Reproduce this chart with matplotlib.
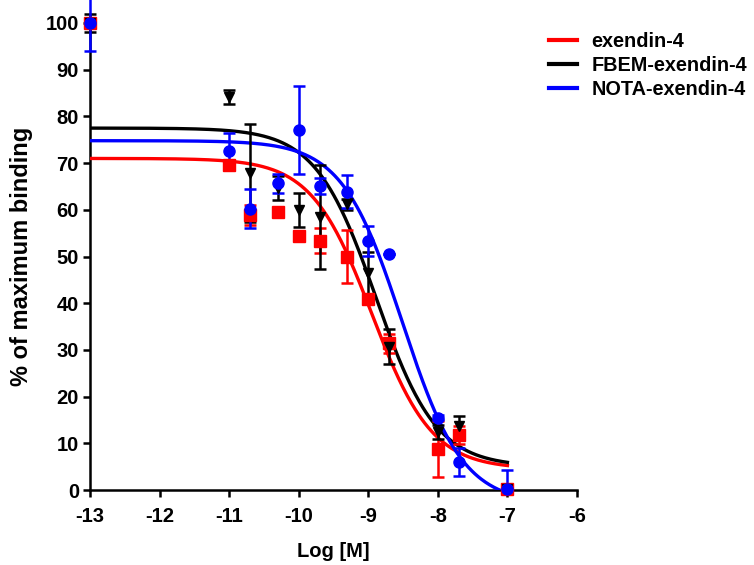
import numpy as np
import matplotlib
matplotlib.use("Agg")
import matplotlib.pyplot as plt

plt.rcParams['font.family'] = ['Liberation Sans', 'DejaVu Sans']
plt.rcParams['font.weight'] = 'bold'
plt.rcParams['axes.unicode_minus'] = False

# Data (log molar concentration)
log_conc = [-13, -11, -10.7, -10.3, -10, -9.7, -9.3, -9, -8.7, -8, -7.7, -7]

exendin_y = [100, 69.6, 58.9, 59.5, 54.4, 53.4, 50.0, 41.0, 31.4, 8.8, 11.8, 0.3]
exendin_err = [0, 1.0, 2.2, 0, 0, 2.7, 5.7, 1.0, 2.0, 6.0, 2.0, 0.3]

fbem_y = [100, 84.2, 67.9, 64.7, 60.0, 58.5, 61.2, 46.5, 30.7, 12.5, 13.6, 0.3]
fbem_err = [2.0, 1.5, 10.5, 2.5, 3.7, 11.2, 1.2, 4.5, 3.7, 1.5, 2.2, 0.3]

nota_y = [100, 72.6, 60.2, 65.7, 77.1, 65.1, 63.9, 53.3, 50.5, 15.5, 6.1, 0.2]
nota_err = [6.0, 3.8, 4.2, 2.0, 9.5, 1.7, 3.6, 3.2, 0, 0.5, 3.0, 4.0]

# Fitted one-site competition curves: top, bottom, logIC50, hill slope
exendin_fit = [71.0, 4.5, -8.95, 1.0]
fbem_fit = [77.5, 5.0, -8.89, 1.0]
nota_fit = [74.8, -3.0, -8.51, 1.0]

labels = ['exendin-4', 'FBEM-exendin-4', 'NOTA-exendin-4']
colors = ['#ff0000', '#000000', '#0000ff']
markers = ['s', 'v', 'o']

fig = plt.figure(figsize=(7.54, 5.65), dpi=100)
ax = fig.add_axes([90/754, 1 - 490/565, (577-90)/754, (490-23)/565])

xs = np.linspace(-13, -7, 400)

def curve(p, x):
    top, bottom, logic50, hill = p
    return bottom + (top - bottom) / (1 + 10 ** ((x - logic50) * hill))

series = [
    (exendin_y, exendin_err, exendin_fit),
    (fbem_y, fbem_err, fbem_fit),
    (nota_y, nota_err, nota_fit),
]

handles = []
for (ys, errs, fit), lab, col, mk in zip(series, labels, colors, markers):
    ys = np.array(ys, float)
    errs = np.array(errs, float)
    lower = np.minimum(errs, ys)
    h, = ax.plot(xs, curve(fit, xs), color=col, lw=2.4, label=lab, zorder=3)
    handles.append(h)
    eb = ax.errorbar(log_conc, ys, yerr=[lower, errs], fmt=mk, color=col,
                     ms=8 if mk != 'v' else 7.5, capsize=4.5, capthick=1.8,
                     elinewidth=1.8, zorder=4, clip_on=False)
    for art in eb.lines[1] + eb.lines[2]:
        art.set_clip_on(False)
    eb.lines[0].set_clip_on(False)

ax.set_xlim(-13, -6)
ax.set_ylim(0, 100)
ax.set_xticks(range(-13, -5))
ax.set_yticks(range(0, 101, 10))
for s in ['top', 'right']:
    ax.spines[s].set_visible(False)
for s in ['left', 'bottom']:
    ax.spines[s].set_linewidth(1.8)
ax.tick_params(axis='both', width=1.8, length=5, labelsize=14.5, direction='out')
ax.tick_params(axis='x', pad=7)
ax.tick_params(axis='y', pad=3)
for t in ax.get_xticklabels() + ax.get_yticklabels():
    t.set_fontweight('bold')

ax.set_xlabel('Log [M]', fontsize=14.5, fontweight='bold', labelpad=12)
ax.set_ylabel('% of maximum binding', fontsize=17, fontweight='bold', labelpad=9)

leg = fig.legend(handles=handles, labels=labels, loc='upper left',
                 bbox_to_anchor=(535/754, 1 - 18/565), frameon=False,
                 prop={'weight': 'bold', 'size': 14.3}, handlelength=1.4,
                 handletextpad=0.75, labelspacing=0.25, borderaxespad=0.3)
for l in leg.get_lines():
    l.set_linewidth(3)

fig.savefig('out.png', dpi=100)
